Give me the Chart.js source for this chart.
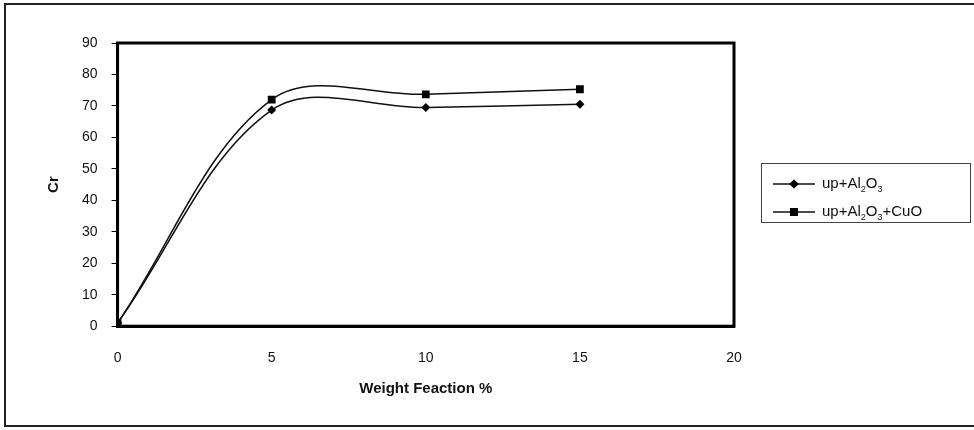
<!DOCTYPE html>
<html>
<head>
<meta charset="utf-8">
<script src="https://cdn.jsdelivr.net/npm/chart.js@4"></script>
<style>
  html, body { margin: 0; padding: 0; background: #fff; }
  #wrap { position: relative; width: 974px; height: 430px; }
  #frame { position: absolute; left: 4px; top: 3px; width: 974px; height: 420px;
           border-left: 2px solid #222; border-top: 2px solid #222; border-bottom: 2px solid #222; }
  #legend { position: absolute; left: 761px; top: 163px; width: 208px; height: 58px;
            border: 1px solid #444; background: #fff; font-family: "Liberation Sans", Arial, sans-serif;
            font-size: 15px; color: #111; }
  #legend .row { position: absolute; left: 10px; height: 20px; line-height: 20px; white-space: nowrap; }
  #legend canvas { vertical-align: middle; margin-right: 6px; }
  #legend sub { font-size: 9px; }
</style>
</head>
<body>
<div id="wrap">
  <canvas id="chart" width="974" height="430"></canvas>
  <div id="frame"></div>
  <div id="legend"></div>
</div>
<script>
// values
const xValues = [0, 5, 10, 15];
const alValues = [1, 68.7, 69.5, 70.5];
const cuoValues = [1, 72, 73.7, 75.3];
const seriesNames = ['up+Al<sub>2</sub>O<sub>3</sub>', 'up+Al<sub>2</sub>O<sub>3</sub>+CuO'];
const seriesMarkers = ['rectRot', 'rect'];
const xTicks = [0, 5, 10, 15, 20];
const yTicks = [0, 10, 20, 30, 40, 50, 60, 70, 80, 90];

const toPoints = vals => xValues.map((x, i) => ({ x: x, y: vals[i] }));

// draws the thick box round the plot area (top and right sides included)
const plotBox = {
    id: 'plotBox',
    afterDatasetsDraw(chart) {
        const a = chart.chartArea, ctx = chart.ctx;
        ctx.save();
        ctx.strokeStyle = '#000';
        ctx.lineWidth = 3;
        ctx.strokeRect(a.left, a.top, a.right - a.left, a.bottom - a.top);
        ctx.restore();
    }
};

const ctx = document.getElementById('chart').getContext('2d');
const chart = new Chart(ctx, {
    type: 'scatter',
    data: {
        datasets: [
            {
                label: 'up+Al2O3',
                data: toPoints(alValues),
                showLine: true,
                tension: 0.35,
                borderColor: '#111',
                borderWidth: 1.5,
                backgroundColor: '#000',
                pointStyle: seriesMarkers[0],
                pointRadius: 4.5,
                pointBorderWidth: 0
            },
            {
                label: 'up+Al2O3+CuO',
                data: toPoints(cuoValues),
                showLine: true,
                tension: 0.35,
                borderColor: '#111',
                borderWidth: 1.5,
                backgroundColor: '#000',
                pointStyle: seriesMarkers[1],
                pointRadius: 5.5,
                pointBorderWidth: 0
            }
        ]
    },
    options: {
        responsive: false,
        animation: false,
        layout: { padding: { left: 41, top: 43, right: 240, bottom: 28 } },
        plugins: { legend: { display: false }, tooltip: { enabled: false } },
        scales: {
            x: {
                type: 'linear',
                min: 0, max: 20,
                afterBuildTicks: axis => { axis.ticks = xTicks.map(v => ({ value: v })); },
                grid: { display: false, drawOnChartArea: false, drawTicks: true, tickLength: 6, color: '#000' },
                border: { color: '#000', width: 3 },
                ticks: { color: '#111', font: { family: 'Liberation Sans', size: 14 }, padding: 18 },
                title: { display: true, text: 'Weight Feaction %', color: '#111',
                         font: { family: 'Liberation Sans', size: 15, weight: 'bold' }, padding: { top: -5, bottom: 4 } }
            },
            y: {
                min: 0, max: 90,
                afterBuildTicks: axis => { axis.ticks = yTicks.map(v => ({ value: v })); },
                grid: { display: true, drawOnChartArea: false, drawTicks: true, tickLength: 6, color: '#000' },
                border: { color: '#000', width: 3 },
                ticks: { color: '#111', font: { family: 'Liberation Sans', size: 14 }, padding: 14 },
                title: { display: true, text: 'Cr', color: '#111',
                         font: { family: 'Liberation Sans', size: 15, weight: 'bold' }, padding: { bottom: 5 } }
            }
        }
    },
    plugins: [plotBox]
});

// legend: a line with the series marker in the middle, then the name
const legend = document.getElementById('legend');
seriesNames.forEach((name, i) => {
    const row = document.createElement('div');
    row.className = 'row';
    row.style.top = (9 + i * 28) + 'px';
    const c = document.createElement('canvas');
    c.width = 44; c.height = 14;
    const g = c.getContext('2d');
    g.strokeStyle = '#111'; g.lineWidth = 1.5;
    g.beginPath(); g.moveTo(1, 7); g.lineTo(43, 7); g.stroke();
    g.fillStyle = '#000';
    Chart.helpers.drawPoint(g, { pointStyle: seriesMarkers[i], radius: i ? 5.5 : 4.5, borderWidth: 0 }, 22, 7);
    g.fill();
    row.appendChild(c);
    const span = document.createElement('span');
    span.innerHTML = name;
    row.appendChild(span);
    legend.appendChild(row);
});
</script>
</body>
</html>
